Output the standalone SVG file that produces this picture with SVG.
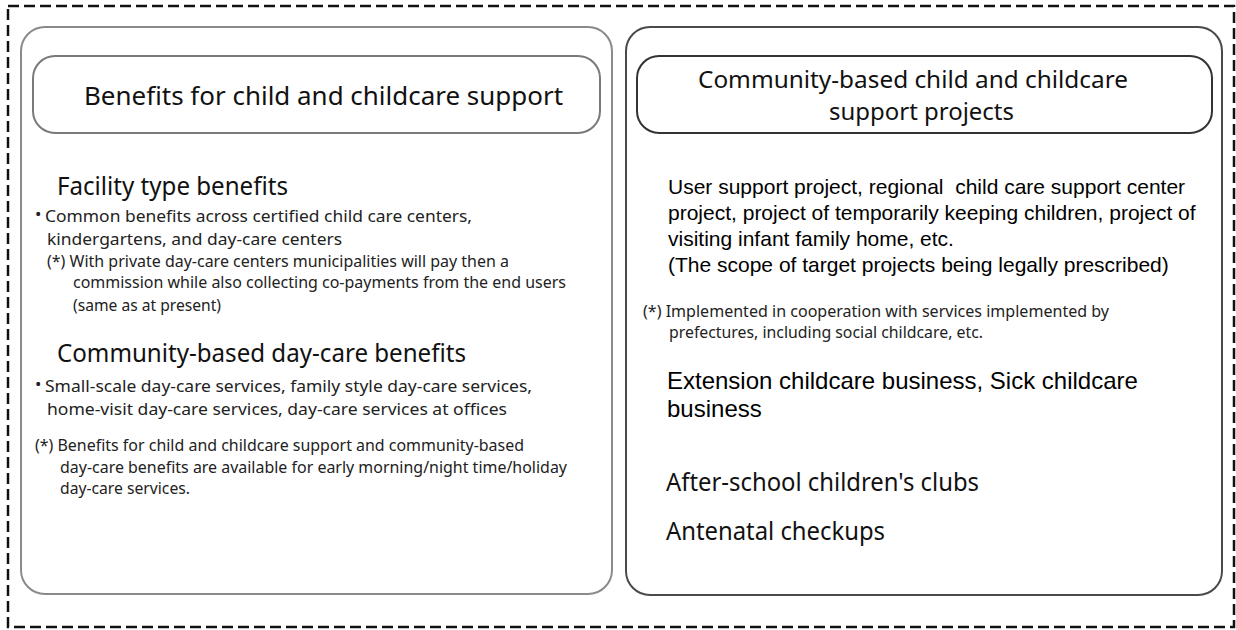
<svg xmlns="http://www.w3.org/2000/svg" width="1236" height="630" viewBox="0 0 1236 630">
<style>
.outer{fill:none;stroke:#111;stroke-width:2.5;stroke-dasharray:11 5}
.panelL{fill:#fff;stroke:#8a8a8a;stroke-width:2}
.panelR{fill:#fff;stroke:#4a4a4a;stroke-width:2}
.headL{fill:#fff;stroke:#7a7a7a;stroke-width:2}
.headR{fill:#fff;stroke:#333;stroke-width:2}
.m{font-family:"Noto Sans","Open Sans",sans-serif;fill:#111}
.big{font-size:26px}
.hd{font-size:24px}
.sm{font-size:17px;fill:#222}
.a{font-family:"Liberation Sans",Arial,sans-serif;fill:#000}
</style>
<rect width="1236" height="630" fill="#fff"/>
<rect class="outer" x="8" y="6" width="1226" height="621"/>
<g id="left-panel">
<rect class="panelL" x="21" y="27" width="591" height="567" rx="24"/>
</g>
<g id="left-header">
<rect class="headL" x="33" y="56" width="567" height="77" rx="22"/>
<text class="m big" x="84" y="105" textLength="479" lengthAdjust="spacingAndGlyphs">Benefits for child and childcare support</text>
</g>
<g id="facility">
<text class="m big" x="57" y="195" textLength="231" lengthAdjust="spacingAndGlyphs">Facility type benefits</text>
<text class="m sm" x="35" y="220">•</text>
<text class="m sm" x="45" y="222" textLength="427" lengthAdjust="spacingAndGlyphs">Common benefits across certified child care centers,</text>
<text class="m sm" x="47" y="245" textLength="295" lengthAdjust="spacingAndGlyphs">kindergartens, and day-care centers</text>
<text class="m sm" x="47" y="267" textLength="462" lengthAdjust="spacingAndGlyphs">(*) With private day-care centers municipalities will pay then a</text>
<text class="m sm" x="73" y="288" textLength="493" lengthAdjust="spacingAndGlyphs">commission while also collecting co-payments from the end users</text>
<text class="m sm" x="73" y="311" textLength="148" lengthAdjust="spacingAndGlyphs">(same as at present)</text>
</g>
<g id="community-daycare">
<text class="m big" x="57" y="362" textLength="409" lengthAdjust="spacingAndGlyphs">Community-based day-care benefits</text>
<text class="m sm" x="35" y="390">•</text>
<text class="m sm" x="45" y="392" textLength="487" lengthAdjust="spacingAndGlyphs">Small-scale day-care services, family style day-care services,</text>
<text class="m sm" x="47" y="415" textLength="460" lengthAdjust="spacingAndGlyphs">home-visit day-care services, day-care services at offices</text>
<text class="m sm" x="35" y="451" textLength="489" lengthAdjust="spacingAndGlyphs">(*) Benefits for child and childcare support and community-based</text>
<text class="m sm" x="60" y="473" textLength="507" lengthAdjust="spacingAndGlyphs">day-care benefits are available for early morning/night time/holiday</text>
<text class="m sm" x="60" y="494" textLength="130" lengthAdjust="spacingAndGlyphs">day-care services.</text>
</g>
<g id="right-panel">
<rect class="panelR" x="626" y="27" width="596" height="568" rx="24"/>
</g>
<g id="right-header">
<rect class="headR" x="637" y="56" width="575" height="77" rx="22"/>
<text class="m hd" x="698" y="88" textLength="430" lengthAdjust="spacingAndGlyphs">Community-based child and childcare</text>
<text class="m hd" x="829" y="120" textLength="185" lengthAdjust="spacingAndGlyphs">support projects</text>
</g>
<g id="user-support">
<text class="a" font-size="21" x="668" y="194" xml:space="preserve">User support project, regional  child care support center</text>
<text class="a" font-size="21" x="668" y="220">project, project of temporarily keeping children, project of</text>
<text class="a" font-size="21" x="668" y="246">visiting infant family home, etc.</text>
<text class="a" font-size="21" x="668" y="272">(The scope of target projects being legally prescribed)</text>
<text class="m sm" x="643" y="317" textLength="466" lengthAdjust="spacingAndGlyphs">(*) Implemented in cooperation with services implemented by</text>
<text class="m sm" x="669" y="338" textLength="314" lengthAdjust="spacingAndGlyphs">prefectures, including social childcare, etc.</text>
</g>
<g id="extension">
<text class="a" font-size="24" x="667" y="389">Extension childcare business, Sick childcare</text>
<text class="a" font-size="24" x="667" y="417">business</text>
</g>
<g id="after-school">
<text class="m big" x="666" y="491" textLength="313" lengthAdjust="spacingAndGlyphs">After-school children's clubs</text>
</g>
<g id="antenatal">
<text class="m big" x="666" y="540" textLength="219" lengthAdjust="spacingAndGlyphs">Antenatal checkups</text>
</g>
<g id="connectors"></g>
</svg>
